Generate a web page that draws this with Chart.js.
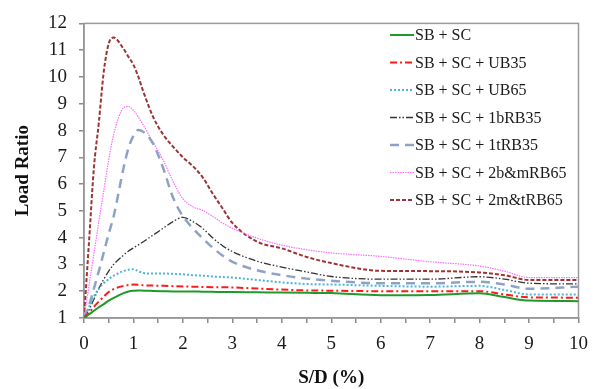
<!DOCTYPE html>
<html><head><meta charset="utf-8">
<script src="https://cdn.jsdelivr.net/npm/chart.js@4"></script>
<style>html,body{margin:0;padding:0;background:#fff}#w{width:598px;height:389px}</style>
</head><body><div id="w"><canvas id="c"></canvas></div>
<script>
const xValues = [0,0.1,0.2,0.3,0.4,0.5,0.6,0.8,0.9,1.0,1.1,1.2,1.4,1.6,1.8,2.0,2.2,2.4,2.6,2.8,3.0,3.5,4,4.5,5,6,7,8,8.5,9,10];
const seriesLabels = ["SB + SC","SB + SC + UB35","SB + SC + UB65","SB + SC + 1bRB35","SB + SC + 1tRB35","SB + SC + 2b&mRB65","SB + SC + 2m&tRB65"];
const sbsc      = [1,1.13,1.27,1.4,1.52,1.65,1.75,1.93,1.99,2.02,2.03,2.02,2.01,2.0,1.99,1.99,1.99,1.98,1.98,1.97,1.97,1.96,1.95,1.94,1.93,1.85,1.86,1.92,1.78,1.65,1.63];
const ub35      = [1,1.2,1.42,1.62,1.8,1.97,2.08,2.2,2.23,2.25,2.24,2.22,2.21,2.2,2.19,2.18,2.17,2.16,2.15,2.15,2.14,2.1,2.06,2.03,2.02,2.0,2.0,2.0,1.88,1.77,1.76];
const ub65      = [1,1.4,1.8,2.1,2.3,2.45,2.58,2.75,2.8,2.82,2.75,2.68,2.66,2.66,2.65,2.63,2.6,2.58,2.55,2.53,2.51,2.42,2.33,2.27,2.25,2.2,2.17,2.2,2.05,1.88,1.88];
const rb1b35    = [1,1.3,1.7,2.1,2.45,2.75,3.0,3.35,3.5,3.62,3.73,3.85,4.1,4.35,4.6,4.76,4.6,4.35,4.0,3.7,3.48,3.12,2.9,2.72,2.55,2.45,2.45,2.54,2.45,2.3,2.27];
const rb1t35    = [1,1.45,2.1,2.75,3.45,4.15,4.8,6.6,7.35,7.8,8.02,7.95,7.5,6.6,5.5,4.8,4.35,3.98,3.63,3.33,3.1,2.78,2.6,2.47,2.39,2.3,2.3,2.35,2.25,2.09,2.17];
const rb2bm65   = [1,2.2,3.4,4.6,5.75,6.9,7.85,8.85,8.9,8.75,8.5,8.2,7.55,6.9,6.1,5.45,5.15,5.02,4.8,4.55,4.35,3.98,3.72,3.55,3.43,3.3,3.1,2.94,2.75,2.51,2.51];
const rb2mt65   = [1,3.8,6.6,8.3,10.2,11.25,11.47,11.05,10.75,10.45,10.0,9.45,8.5,7.85,7.4,7.0,6.67,6.25,5.65,5.1,4.55,3.85,3.6,3.28,3.05,2.76,2.75,2.7,2.6,2.42,2.42];
const xTickLabels = ["0","1","2","3","4","5","6","7","8","9","10"];
const yTickLabels = ["1","2","3","4","5","6","7","8","9","10","11","12"];

const allSeries = [sbsc, ub35, ub65, rb1b35, rb1t35, rb2bm65, rb2mt65];
const styles = [
  {c:'#1f9a2a', w:2, d:[]},
  {c:'#ff1a1a', w:2, d:[7,3,2,3]},
  {c:'#4db6d6', w:2, d:[2,2]},
  {c:'#333333', w:1.3, d:[7,2,1.5,2,1.5,2]},
  {c:'#8ea3c4', w:2.5, d:[9,6]},
  {c:'#ff6cff', w:1.2, d:[1.5,1]},
  {c:'#9b3535', w:2, d:[4,2]}
];
const FONT = "'Liberation Serif','Times New Roman',serif";

const datasets = allSeries.map((s,i)=>({
  label: seriesLabels[i],
  data: s.map((v,j)=>({x:xValues[j], y:v})),
  borderColor: styles[i].c,
  borderWidth: styles[i].w,
  borderDash: styles[i].d,
  pointRadius: 0,
  fill: false,
  cubicInterpolationMode: 'monotone'
}));

const frame = {
  id:'frame',
  beforeDatasetsDraw(chart){
    const {ctx, chartArea:a} = chart;
    ctx.save();
    ctx.strokeStyle = '#9a9a9a';
    ctx.lineWidth = 1.5;
    ctx.strokeRect(a.left, a.top, a.right-a.left, a.bottom-a.top);
    ctx.restore();
  }
};
const legendBox = {
  id:'legendBox',
  afterDatasetsDraw(chart){
    const ctx = chart.ctx;
    ctx.save();
    ctx.font = "16px " + FONT;
    ctx.textBaseline = 'middle';
    ctx.fillStyle = '#1a1a1a';
    chart.data.datasets.forEach((ds,i)=>{
      const y = 35 + i*27.5;
      ctx.beginPath();
      ctx.strokeStyle = ds.borderColor;
      ctx.lineWidth = ds.borderWidth;
      ctx.setLineDash(ds.borderDash);
      ctx.moveTo(390, y); ctx.lineTo(414, y); ctx.stroke();
      ctx.setLineDash([]);
      ctx.fillText(ds.label, 415, y+1);
    });
    ctx.restore();
  }
};

new Chart(document.getElementById('c'), {
  type:'line',
  data:{datasets},
  plugins:[frame, legendBox],
  options:{
    responsive:true, maintainAspectRatio:false, animation:false,
    layout:{padding:{top:18, right:18, left:12, bottom:0}},
    plugins:{legend:{display:false}, tooltip:{enabled:false}},
    scales:{
      x:{
        type:'linear', min:0, max:10,
        afterFit(s){ s.height = 71; },
        ticks:{stepSize:0.5, autoSkip:false, maxRotation:0, padding:10, color:'#1a1a1a',
          font:{family:FONT, size:19},
          callback:(v)=> Number.isInteger(v) ? xTickLabels[v] : ''},
        grid:{drawOnChartArea:false, tickLength:5, color:'#8a8a8a', lineWidth:1.5},
        border:{color:'#8a8a8a', width:1.5},
        title:{display:true, text:'S/D (%)', color:'#111', font:{family:FONT, size:19, weight:'bold'}, padding:{top:4,bottom:0}}
      },
      y:{
        type:'linear', min:1, max:12,
        afterFit(s){ s.width = 72; },
        ticks:{stepSize:1, padding:12, color:'#1a1a1a', font:{family:FONT, size:19},
          callback:(v)=> yTickLabels[v-1]},
        grid:{drawOnChartArea:false, tickLength:5, color:'#8a8a8a', lineWidth:1.5},
        border:{color:'#8a8a8a', width:1.5},
        title:{display:true, text:'Load Ratio', color:'#111', font:{family:FONT, size:19, weight:'bold'}, padding:{top:0,bottom:0}}
      }
    }
  }
});
</script></body></html>
